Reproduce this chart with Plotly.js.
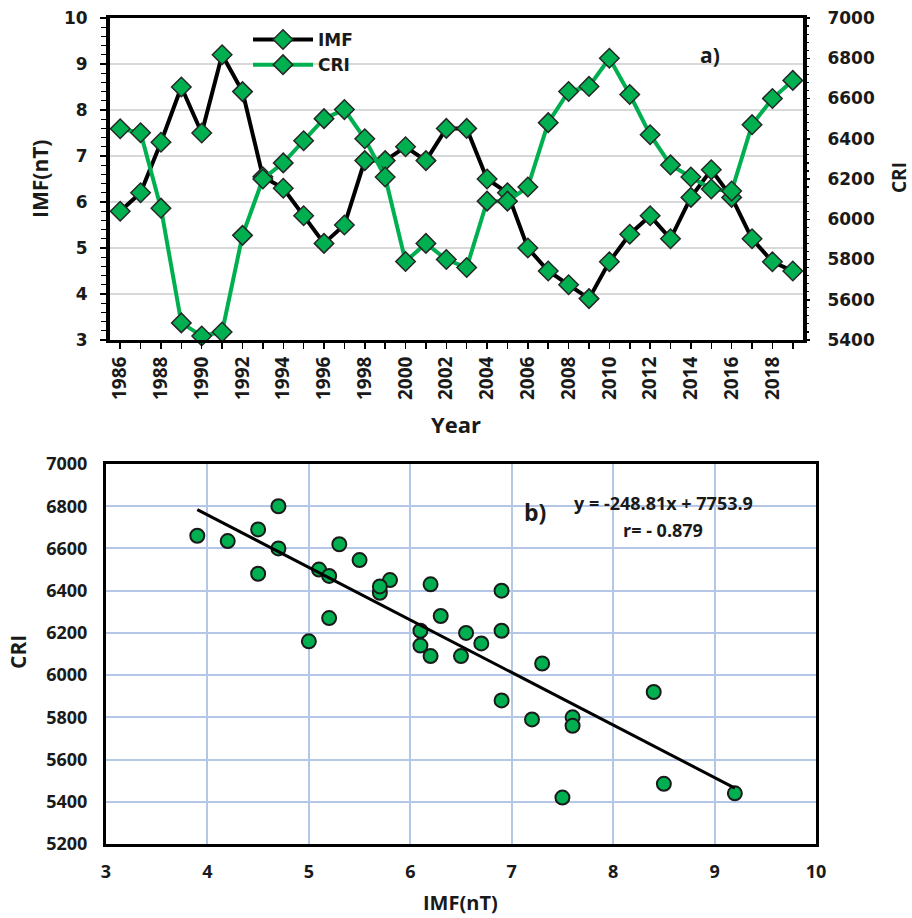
<!DOCTYPE html>
<html>
<head>
<meta charset="utf-8">
<script src="https://cdn.plot.ly/plotly-3.0.1.min.js"></script>
<style>html,body{margin:0;padding:0;background:#fff;}#chart{width:912px;height:918px;}</style>
</head>
<body>
<div id="chart"></div>
<script>
// ---- Data ----
const years = [1986,1987,1988,1989,1990,1991,1992,1993,1994,1995,1996,1997,1998,1999,2000,2001,2002,2003,2004,2005,2006,2007,2008,2009,2010,2011,2012,2013,2014,2015,2016,2017,2018,2019];
const imf = [5.8,6.2,7.3,8.5,7.5,9.2,8.4,6.55,6.3,5.7,5.1,5.5,6.9,6.9,7.2,6.9,7.6,7.6,6.5,6.2,5.0,4.5,4.2,3.9,4.7,5.3,5.7,5.2,6.1,6.7,6.1,5.2,4.7,4.5];
const cri = [6450,6430,6055,5485,5420,5440,5920,6200,6280,6390,6500,6545,6400,6210,5790,5880,5800,5760,6090,6090,6160,6480,6635,6660,6800,6620,6420,6270,6210,6150,6140,6470,6600,6690];
const trendX = [3.9, 9.2];
const trendY = [6784, 5465];
const seriesNames = ['IMF', 'CRI'];
const eqText = 'y = -248.81x + 7753.9';
const rText = 'r= - 0.879';

// ---- Styling ----
const GREEN = '#00B050';
const W = 912, H = 918;
const px = v => v / W;
const py = v => 1 - v / H;
const txt = '#1a1a1a';
const tickTop = {family: 'DejaVu Sans', size: 17, color: txt, weight: 'bold'};
const tickX = {family: 'Open Sans', size: 19, color: txt, weight: 'bold'};
const tickBot = {family: 'Open Sans', size: 18, color: txt, weight: 'bold'};

const traces = [
  {x: years, y: imf, name: seriesNames[0], type: 'scatter', mode: 'lines+markers',
   xaxis: 'x', yaxis: 'y', cliponaxis: false,
   line: {color: '#000', width: 4},
   marker: {symbol: 'diamond', size: 15, color: GREEN, line: {color: '#262626', width: 1.5}}},
  {x: years, y: cri, name: seriesNames[1], type: 'scatter', mode: 'lines+markers',
   xaxis: 'x', yaxis: 'y2', cliponaxis: false,
   line: {color: GREEN, width: 4},
   marker: {symbol: 'diamond', size: 15, color: GREEN, line: {color: '#262626', width: 1.5}}},
  {x: imf, y: cri, type: 'scatter', mode: 'markers', showlegend: false,
   xaxis: 'x2', yaxis: 'y3', cliponaxis: false,
   marker: {symbol: 'circle', size: 14, color: GREEN, line: {color: '#1a1a1a', width: 2}}},
  {x: trendX, y: trendY, type: 'scatter', mode: 'lines', showlegend: false,
   xaxis: 'x2', yaxis: 'y3', line: {color: '#000', width: 3}}
];

function ann(text, x, y, size, angle) {
  return {text: text, x: px(x), y: py(y), xref: 'paper', yref: 'paper', showarrow: false,
    xanchor: 'center', yanchor: 'middle', textangle: angle || 0,
    font: {family: 'Open Sans', size: size, color: txt, weight: 'bold'}};
}

const layout = {
  width: W, height: H,
  margin: {l: 0, r: 0, t: 0, b: 0},
  paper_bgcolor: '#fff', plot_bgcolor: '#fff',
  showlegend: true,
  legend: {x: px(248), y: py(22), xanchor: 'left', yanchor: 'top', bgcolor: 'rgba(0,0,0,0)',
    font: {family: 'DejaVu Sans', size: 17, color: txt, weight: 'bold'}, itemwidth: 60, tracegroupgap: 0},
  xaxis: {domain: [px(110), px(803)], anchor: 'y', range: [1985.5, 2019.5],
    tick0: 1986, dtick: 2, ticks: 'outside', ticklen: 6, tickwidth: 1.5, tickcolor: '#000',
    tickangle: -90, tickfont: tickX, showgrid: false, zeroline: false,
    showline: true, mirror: true, linewidth: 3, linecolor: '#000',
    minor: {dtick: 1, ticks: 'outside', ticklen: 6, tickwidth: 1.5, tickcolor: '#000', showgrid: false}},
  yaxis: {domain: [py(340), py(18)], anchor: 'x', range: [3, 10], dtick: 1,
    ticks: 'outside', ticklen: 6, tickwidth: 1.5, tickcolor: '#000', tickfont: tickTop,
    ticklabelstandoff: 9,
    showgrid: true, gridcolor: '#d9d9d9', gridwidth: 1.5, zeroline: false,
    showline: true, mirror: true, linewidth: 4, linecolor: '#000',
    minor: {dtick: 0.2, ticks: 'outside', ticklen: 5, tickwidth: 1.2, tickcolor: '#000', showgrid: false}},
  yaxis2: {overlaying: 'y', side: 'right', anchor: 'x', range: [5400, 7000], dtick: 200,
    ticks: 'outside', ticklen: 6, tickwidth: 1.5, tickcolor: '#000', tickfont: tickTop,
    ticklabelstandoff: 14,
    showgrid: false, zeroline: false, showline: false,
    minor: {dtick: 40, ticks: 'outside', ticklen: 5, tickwidth: 1.2, tickcolor: '#000', showgrid: false}},
  xaxis2: {domain: [px(106), px(816)], anchor: 'y3', range: [3, 10], dtick: 1,
    ticks: '', tickfont: tickBot, ticklabelstandoff: 9,
    showgrid: true, gridcolor: '#b4c7e7', gridwidth: 2, zeroline: false,
    showline: true, mirror: true, linewidth: 3, linecolor: '#000'},
  yaxis3: {domain: [py(844), py(464)], anchor: 'x2', range: [5200, 7000], dtick: 200,
    ticks: '', tickfont: tickBot, ticklabelstandoff: 12,
    showgrid: true, gridcolor: '#b4c7e7', gridwidth: 2, zeroline: false,
    showline: true, mirror: true, linewidth: 3, linecolor: '#000'},
  annotations: [
    ann('IMF(nT)', 40, 179, 21, -90),
    ann('CRI', 899, 178, 19, -90),
    ann('Year', 456, 424, 22),
    ann('a)', 710, 55, 21),
    ann('CRI', 18, 652, 21, -90),
    ann('IMF(nT)', 460, 902, 20),
    ann('b)', 535, 512, 23),
    ann(eqText, 663, 503, 18),
    ann(rText, 663, 530, 18)
  ]
};

Plotly.newPlot('chart', traces, layout, {displayModeBar: false, staticPlot: true});
</script>
</body>
</html>
